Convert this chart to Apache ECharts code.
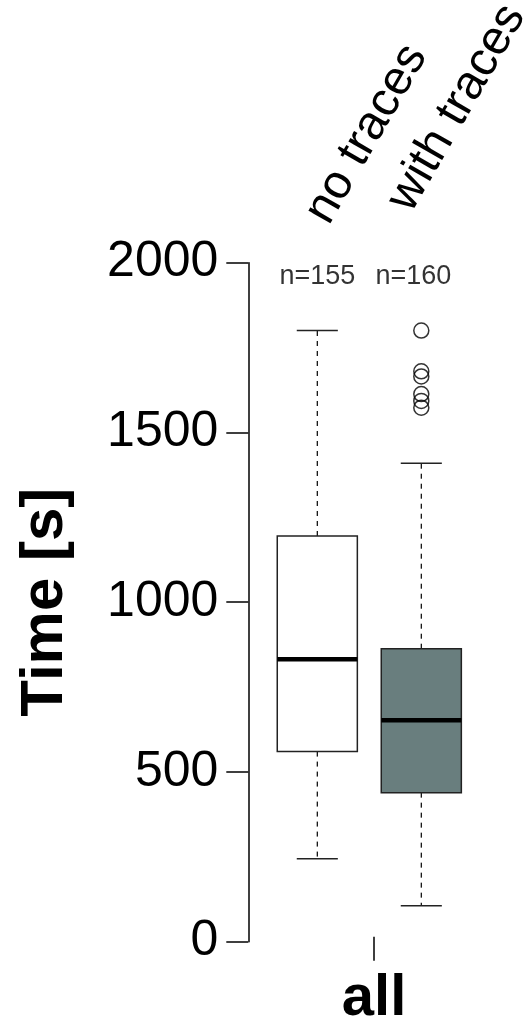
<!DOCTYPE html>
<html>
<head>
<meta charset="utf-8">
<script src="https://cdn.jsdelivr.net/npm/echarts@6/dist/echarts.min.js"></script>
<style>
html,body{margin:0;padding:0;background:#fff;}
#chart{width:527px;height:1020px;}
</style>
</head>
<body>
<div id="chart"></div>
<script>
// ---- data ----
var categories = ['no traces', 'with traces'];
var groupLabel = ['all'];
var whiskerLow = [244, 106];
var q1Values = [560, 439];
var medianValues = [832, 652];
var q3Values = [1195, 863];
var whiskerHigh = [1800, 1409];
var outliersWithTraces = [1800, 1680, 1665, 1613, 1593, 1573];
var nCounts = [155, 160];
var nLabelLevel = 1958;
var yTicks = [0, 500, 1000, 1500, 2000];

// ---- styles ----
var FONT = 'Liberation Sans, Arial, Helvetica, sans-serif';
var boxFills = ['#ffffff', '#697e7e'];

var boxData = categories.map(function (c, i) {
  return [i, whiskerLow[i], q1Values[i], medianValues[i], q3Values[i], whiskerHigh[i]];
});
var outlierData = outliersWithTraces.map(function (v) { return [1, v]; });
var nData = nCounts.map(function (n, i) {
  var item = { value: [i, nLabelLevel], n: n };
  if (i === 1) item.label = { offset: [-8, 0] };
  return item;
});

var chart = echarts.init(document.getElementById('chart'), null, { renderer: 'canvas' });

chart.setOption({
  animation: false,
  backgroundColor: '#ffffff',
  grid: [
    { left: 265.3, right: 53.7, top: 262.7, bottom: 78.3, containLabel: false, outerBoundsMode: 'none' },
    { left: 300, right: 79, top: 262.7, bottom: 83.3, containLabel: false, outerBoundsMode: 'none' }
  ],
  xAxis: [
    {
      type: 'category', gridIndex: 0, data: categories, position: 'top',
      axisLine: { show: false }, axisTick: { show: false }, splitLine: { show: false },
      axisLabel: {
        rotate: 60, margin: 43, fontSize: 48, lineHeight: 50, color: '#000', fontFamily: FONT,
        interval: 0, hideOverlap: false,
        formatter: function (v, i) { return i === 1 ? v + '\n ' : v; }
      }
    },
    {
      type: 'category', gridIndex: 1, data: groupLabel, position: 'bottom',
      axisLine: { show: false },
      axisTick: { show: true, alignWithLabel: true, length: 24, lineStyle: { color: '#000', width: 1.5 } },
      splitLine: { show: false },
      axisLabel: { margin: 33, fontSize: 58, fontWeight: 'bold', color: '#000', fontFamily: FONT }
    }
  ],
  yAxis: [
    {
      type: 'value', gridIndex: 0, min: 0, max: 2000, interval: 500, offset: 17,
      name: 'Time [s]', nameLocation: 'middle', nameGap: 173, nameRotate: 90,
      nameTextStyle: { fontSize: 60, fontWeight: 'bold', color: '#000', fontFamily: FONT },
      axisLine: { show: true, lineStyle: { color: '#000', width: 1.5 } },
      axisTick: { show: true, length: 22, lineStyle: { color: '#000', width: 1.5 } },
      splitLine: { show: false },
      axisLabel: { margin: 30, fontSize: 50, color: '#000', fontFamily: FONT,
        formatter: function (v) { return yTicks.indexOf(v) >= 0 ? String(v) : ''; } }
    },
    { type: 'value', gridIndex: 1, show: false, min: 0, max: 2000 }
  ],
  series: [
    {
      type: 'custom', xAxisIndex: 0, yAxisIndex: 0,
      encode: { x: 0, y: [1, 2, 3, 4, 5] },
      data: boxData,
      renderItem: function (params, api) {
        var x = api.value(0);
        var pMin = api.coord([x, api.value(1)]);
        var pQ1 = api.coord([x, api.value(2)]);
        var pMed = api.coord([x, api.value(3)]);
        var pQ3 = api.coord([x, api.value(4)]);
        var pMax = api.coord([x, api.value(5)]);
        var band = api.size([1, 0])[0];
        var bw = band * 0.77, cw = band * 0.395;
        var cx = pMed[0];
        var dash = { stroke: '#000', lineWidth: 1.2, lineDash: [5, 5] };
        var solid = { stroke: '#222', lineWidth: 1.5 };
        return {
          type: 'group',
          children: [
            { type: 'line', shape: { x1: cx, y1: pQ3[1], x2: cx, y2: pMax[1] }, style: dash },
            { type: 'line', shape: { x1: cx, y1: pQ1[1], x2: cx, y2: pMin[1] }, style: dash },
            { type: 'line', shape: { x1: cx - cw / 2, y1: pMax[1], x2: cx + cw / 2, y2: pMax[1] }, style: solid },
            { type: 'line', shape: { x1: cx - cw / 2, y1: pMin[1], x2: cx + cw / 2, y2: pMin[1] }, style: solid },
            { type: 'rect', shape: { x: cx - bw / 2, y: pQ3[1], width: bw, height: pQ1[1] - pQ3[1] },
              style: { fill: boxFills[params.dataIndex], stroke: '#222', lineWidth: 1.5 } },
            { type: 'line', shape: { x1: cx - bw / 2, y1: pMed[1], x2: cx + bw / 2, y2: pMed[1] },
              style: { stroke: '#000', lineWidth: 4.5 } }
          ]
        };
      }
    },
    {
      type: 'scatter', xAxisIndex: 0, yAxisIndex: 0,
      data: outlierData, symbol: 'circle', symbolSize: 15,
      itemStyle: { color: 'rgba(0,0,0,0)', borderColor: '#000', borderWidth: 1.5 }
    },
    {
      type: 'scatter', xAxisIndex: 0, yAxisIndex: 0,
      data: nData, symbolSize: 0,
      label: {
        show: true, position: 'inside', fontSize: 27, color: '#000', fontFamily: FONT,
        formatter: function (p) { return 'n=' + p.data.n; }
      }
    }
  ]
});
</script>
</body>
</html>
